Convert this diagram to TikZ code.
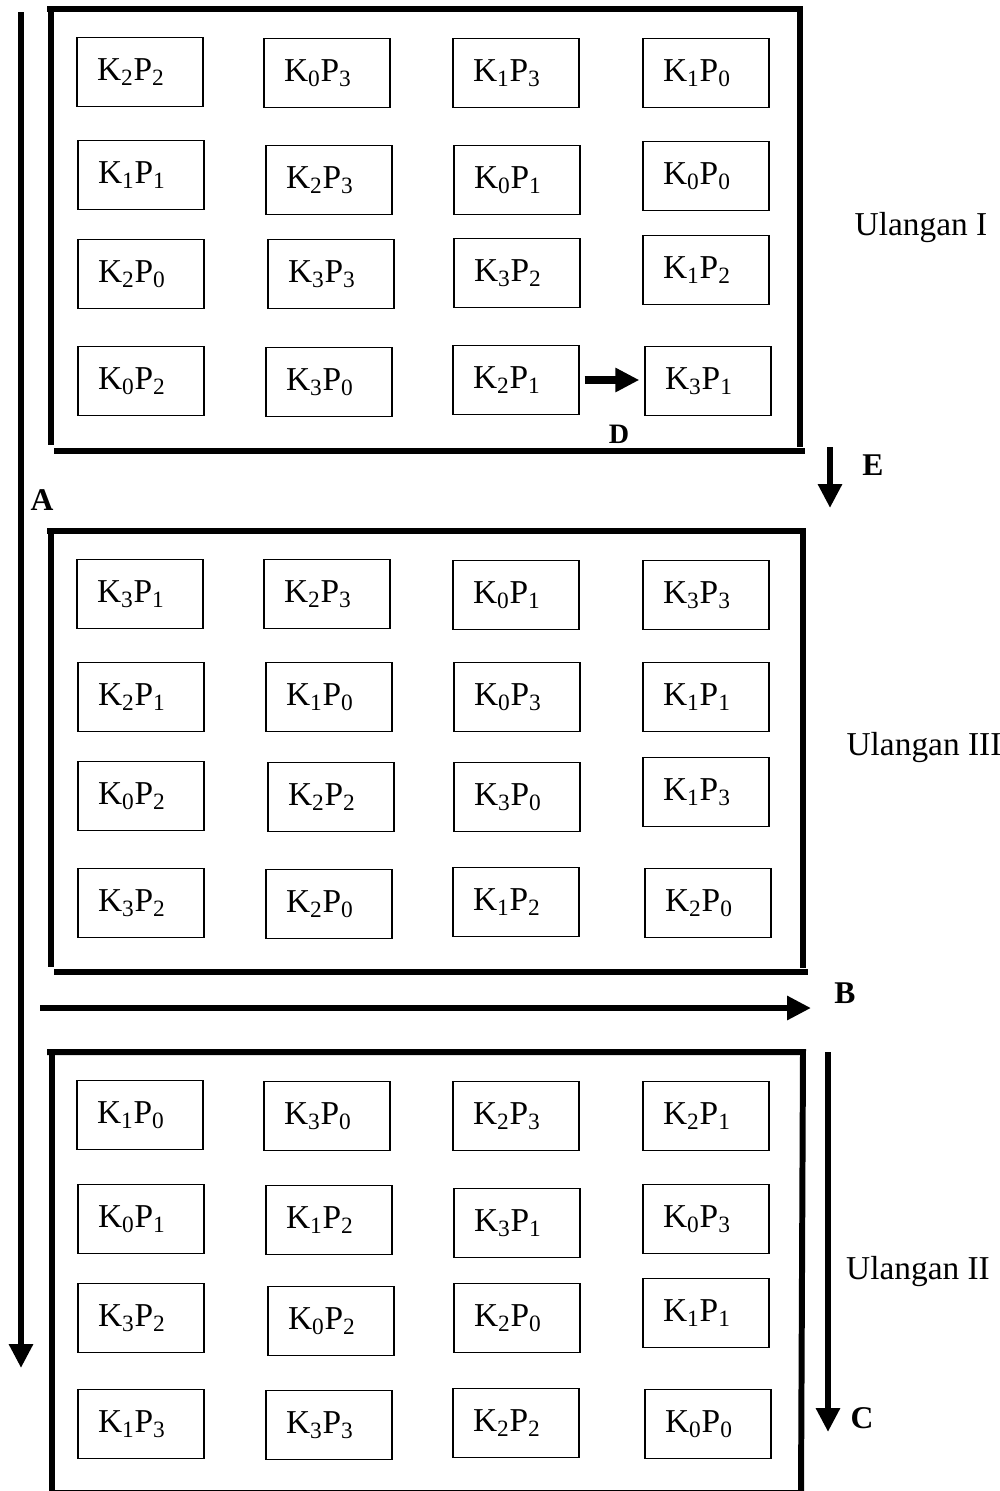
\documentclass[tikz,border=0pt]{standalone}
\usepackage{fontspec}
\setmainfont{Liberation Serif}
\usetikzlibrary{arrows.meta}
\newcommand{\kp}[2]{K\textsubscript{#1}P\textsubscript{#2}}

\begin{document}
\begin{tikzpicture}[x=0.02cm,y=-0.02cm,
    unit/.style={draw,line width=0.8pt,minimum height=1.38cm,text width=1.72cm,
                 inner xsep=0.4cm,align=left,font=\fontsize{19}{22}\selectfont},
    wall/.style={line width=3.4pt},
    flow/.style={line width=3.4pt,-{Triangle[length=0.48cm,width=0.46cm]}},
    lbl/.style={font=\fontsize{18}{21}\selectfont\bfseries},
    ulg/.style={font=\fontsize{19}{22}\selectfont}]
  \clip (0,0) rectangle (1000,1491);

  % Ulangan I
  \draw[wall] (47,9) -- (800,9) -- (800,447);
  \draw[wall] (51,7) -- (51,445);
  \draw[wall] (54,451) -- (805,451);
  \foreach \x/\y/\k/\p [count=\i] in {
      140/72/2/2, 327/73/0/3, 516/73/1/3, 706/73/1/0,
      141/175/1/1, 329/180/2/3, 517/180/0/1, 706/176/0/0,
      141/274/2/0, 331/274/3/3, 517/273/3/2, 706/270/1/2,
      141/381/0/2, 329/382/3/0, 516/380/2/1, 708/381/3/1}
    \node[unit] (u1-\i) at (\x,\y) {\kp{\k}{\p}};
  \node[ulg] (ulg1) at (921,228) {Ulangan I};

  % Ulangan III
  \draw[wall] (47,531) -- (803,531) -- (803,968);
  \draw[wall] (51,529) -- (51,967);
  \draw[wall] (54,972) -- (808,972);
  \foreach \x/\y/\k/\p [count=\i] in {
      140/594/3/1, 327/594/2/3, 516/595/0/1, 706/595/3/3,
      141/697/2/1, 329/697/1/0, 517/697/0/3, 706/697/1/1,
      141/796/0/2, 331/797/2/2, 517/797/3/0, 706/792/1/3,
      141/903/3/2, 329/904/2/0, 516/902/1/2, 708/903/2/0}
    \node[unit] (u3-\i) at (\x,\y) {\kp{\k}{\p}};
  \node[ulg] (ulg3) at (924,748) {Ulangan III};

  % Ulangan II
  \draw[wall] (47,1052) -- (803,1052) -- (801,1495);
  \draw[wall] (52,1050) -- (52,1495);
  \draw[wall] (52,1493) -- (801,1493);
  \foreach \x/\y/\k/\p [count=\i] in {
      140/1115/1/0, 327/1116/3/0, 516/1116/2/3, 706/1116/2/1,
      141/1219/0/1, 329/1220/1/2, 517/1223/3/1, 706/1219/0/3,
      141/1318/3/2, 331/1321/0/2, 517/1318/2/0, 706/1313/1/1,
      141/1424/1/3, 329/1425/3/3, 516/1423/2/2, 708/1424/0/0}
    \node[unit] (u2-\i) at (\x,\y) {\kp{\k}{\p}};
  \node[ulg] (ulg2) at (918,1272) {Ulangan II};

  % arah pengacakan
  \coordinate (a0) at (21,12);
  \coordinate (a1) at (21,1368);
  \draw[flow] (a0) -- (a1);
  \node[lbl] (la) at (42,500) {A};

  \coordinate (b0) at (40,1008);
  \coordinate (b1) at (811,1008);
  \draw[flow] (b0) -- (b1);
  \node[lbl] (lb) at (845,993) {B};

  \coordinate (c0) at (828,1052);
  \coordinate (c1) at (828,1432);
  \draw[flow] (c0) -- (c1);
  \node[lbl] (lc) at (862,1418) {C};

  \draw[flow,line width=4.5pt,shorten <=0.1cm,shorten >=0.1cm]
    (u1-15.east) -- (u1-15.east -| u1-16.west);
  \node[lbl,font=\fontsize{16}{19}\selectfont\bfseries] (ld) at (619,434) {D};

  \coordinate (e0) at (830,447);
  \coordinate (e1) at (830,508);
  \draw[flow] (e0) -- (e1);
  \node[lbl] (le) at (873,465) {E};
\end{tikzpicture}
\end{document}
